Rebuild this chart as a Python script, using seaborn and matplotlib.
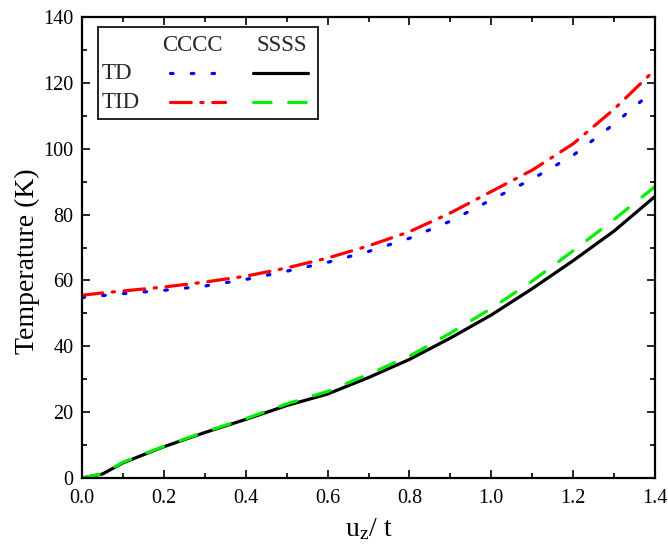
import matplotlib
matplotlib.use("Agg")
import matplotlib.pyplot as plt
import numpy as np
import pandas as pd
import seaborn as sns
from matplotlib.lines import Line2D
from matplotlib.patches import Rectangle
from matplotlib.ticker import MultipleLocator

# ---- data ----
u = [0.0, 0.05, 0.1, 0.2, 0.3, 0.4, 0.5, 0.6, 0.7, 0.8, 0.9, 1.0, 1.1, 1.2, 1.3, 1.4]
td_cccc = [54.8, 55.4, 56.0, 57.0, 58.3, 60.3, 62.8, 65.5, 68.8, 72.8, 78.0, 84.5, 90.8, 98.0, 107.5, 118.0]
tid_cccc = [55.5, 56.2, 56.8, 58.0, 59.5, 61.3, 63.8, 66.8, 70.5, 74.8, 80.5, 87.0, 93.5, 101.5, 112.0, 124.0]
td_ssss = [0.0, 1.2, 4.6, 9.5, 13.8, 17.8, 22.0, 25.5, 30.5, 36.0, 42.5, 49.5, 57.5, 66.0, 75.0, 85.5]
tid_ssss = [0.0, 1.3, 4.8, 9.6, 14.0, 18.0, 22.5, 26.3, 31.5, 37.0, 44.0, 51.5, 59.8, 69.0, 78.5, 88.5]

row_labels = ["TD", "TID"]
col_labels = ["CCCC", "SSSS"]
x_ticks = [0.0, 0.2, 0.4, 0.6, 0.8, 1.0, 1.2, 1.4]
y_ticks = [0, 20, 40, 60, 80, 100, 120, 140]

sns.set_theme(style="ticks")
plt.rcParams["font.family"] = ["Liberation Serif", "DejaVu Serif"]
plt.rcParams["mathtext.fontset"] = "custom"
plt.rcParams["mathtext.rm"] = "Liberation Serif"
plt.rcParams["mathtext.it"] = "Liberation Serif"

fig = plt.figure(figsize=(6.68, 5.51), dpi=100)
ax = fig.add_axes([0.1228, 0.1325, 0.8577, 0.8366])

lw = 2.3
styles = {
    "td_cccc": dict(color="#0000ff", linestyle=(0, (0.8, 5.7)), dash_capstyle="round"),
    "tid_cccc": dict(color="#ff0000", linestyle=(0, (6.5, 3, 0.7, 3)), dash_capstyle="round"),
    "td_ssss": dict(color="#000000", linestyle="-", solid_capstyle="round"),
    "tid_ssss": dict(color="#00ee00", linestyle=(0, (5.5, 5.5)), dash_capstyle="round"),
}
series = {"td_cccc": td_cccc, "tid_cccc": tid_cccc, "td_ssss": td_ssss, "tid_ssss": tid_ssss}
for key in ["td_ssss", "tid_ssss", "td_cccc", "tid_cccc"]:
    df = pd.DataFrame({"u": u, "T": series[key]})
    sns.lineplot(data=df, x="u", y="T", ax=ax, lw=lw, **styles[key])

ax.set_xlim(0, 1.4)
ax.set_ylim(0, 140)
ax.set_xticks(x_ticks)
ax.set_xticklabels([f"{v:.1f}" for v in x_ticks])
ax.set_yticks(y_ticks)
ax.set_yticklabels([str(v) for v in y_ticks])
ax.xaxis.set_minor_locator(MultipleLocator(0.1))
ax.yaxis.set_minor_locator(MultipleLocator(10))
ax.tick_params(which="both", direction="in", top=True, right=True, width=1.2, color="black",
               labelsize=14.5, labelcolor="black")
ax.tick_params(axis="x", pad=8)
ax.tick_params(axis="y", pad=6)
ax.tick_params(which="major", length=6)
ax.tick_params(which="minor", length=3.5)
for s in ax.spines.values():
    s.set_linewidth(1.6)
    s.set_color("black")

ax.set_xlabel("u$_\\mathregular{z}$/ t", fontsize=20, color="black", labelpad=6)
ax.set_ylabel("Temperature (K)", fontsize=20, color="black", labelpad=2.5)
ax.yaxis.label.set_y(0.47)

# table-style legend
tr = ax.transAxes
ax.add_patch(Rectangle((0.028, 0.779), 0.384, 0.199, transform=tr, fill=False,
                       edgecolor="#222222", lw=1.4, zorder=5))
fs_leg = 16.5
ax.text(0.192, 0.939, col_labels[0], transform=tr, ha="center", va="center", fontsize=fs_leg, zorder=6)
ax.text(0.349, 0.939, col_labels[1], transform=tr, ha="center", va="center", fontsize=fs_leg, zorder=6)
ax.text(0.035, 0.8765, row_labels[0], transform=tr, ha="left", va="center", fontsize=fs_leg, zorder=6)
ax.text(0.035, 0.8146, row_labels[1], transform=tr, ha="left", va="center", fontsize=fs_leg, zorder=6)
for (key, x0, x1, y0) in [("td_cccc", 0.153, 0.233, 0.8785), ("td_ssss", 0.298, 0.394, 0.8785),
                          ("tid_cccc", 0.153, 0.250, 0.8156), ("tid_ssss", 0.298, 0.394, 0.8156)]:
    ax.add_line(Line2D([x0, x1], [y0, y0], transform=tr, lw=lw, zorder=6, **styles[key]))

fig.savefig("out.png", dpi=100)
